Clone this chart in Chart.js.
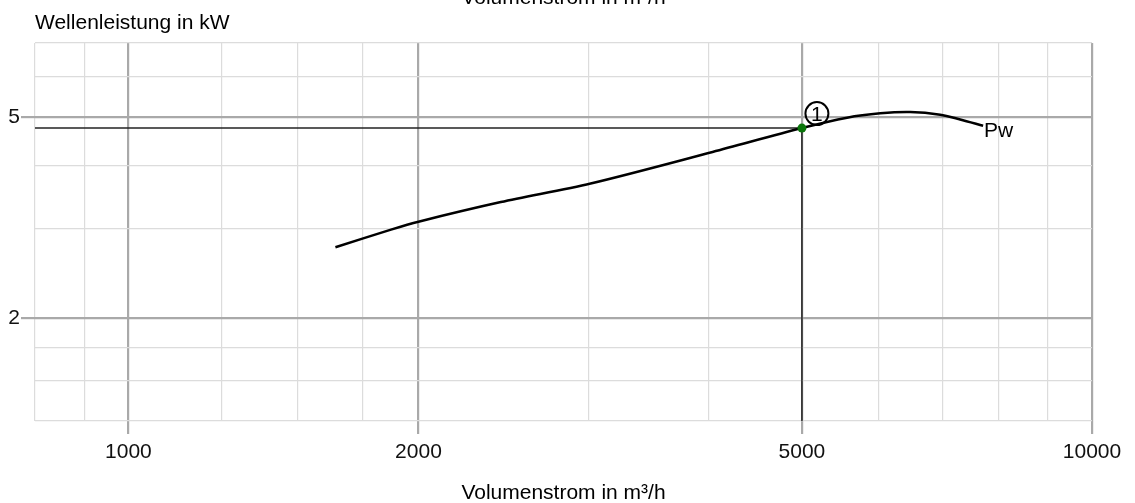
<!DOCTYPE html>
<html>
<head>
<meta charset="utf-8">
<script src="https://cdn.jsdelivr.net/npm/chart.js@4/dist/chart.umd.min.js"></script>
<style>
html,body{margin:0;padding:0;background:#fff;}
#wrap{width:1135px;height:503px;position:relative;}
</style>
</head>
<body>
<div id="wrap"><canvas id="c"></canvas></div>
<script>
// ---- data ----
const xTickValues = [800, 900, 1000, 1250, 1500, 1750, 2000, 3000, 4000, 5000, 6000, 7000, 8000, 9000, 10000];
const xMajorTicks = [1000, 2000, 5000, 10000];
const yTickValues = [1.25, 1.5, 1.75, 2, 3, 4, 5, 6, 7];
const yMajorTicks = [2, 5];
const flowRate   = [1640, 1873, 2000, 2435, 3018, 4039, 5000, 5569, 6030, 6477, 6958, 7298, 7709];
const shaftPower = [2.76, 2.99, 3.10, 3.39, 3.69, 4.26, 4.75, 4.98, 5.08, 5.11, 5.05, 4.94, 4.80];
const opFlow = 5000;
const opPower = 4.75;
const xMin = 800, xMax = 10000, yMin = 1.25, yMax = 7;
const curveLabel = 'Pw';
const opLabel = '1';
const xTitle = 'Volumenstrom in m³/h';
const yTitle = 'Wellenleistung in kW';

const FONT = '"Liberation Sans", Arial, sans-serif';

const curve = flowRate.map((x, i) => ({x, y: shaftPower[i]}));

const annot = {
  id: 'annot',
  afterDatasetsDraw(chart) {
    const ctx = chart.ctx;
    const xs = chart.scales.x, ys = chart.scales.y;
    const ca = chart.chartArea;
    ctx.save();
    ctx.fillStyle = '#000';
    ctx.font = '21px ' + FONT;
    // titles
    ctx.textAlign = 'left';
    ctx.textBaseline = 'alphabetic';
    ctx.fillText(yTitle, ca.left, 29);
    ctx.textAlign = 'center';
    ctx.fillText(xTitle, (ca.left + ca.right) / 2, 499);
    ctx.fillText(xTitle, (ca.left + ca.right) / 2, 4);
    // operating point marker "1"
    const px = xs.getPixelForValue(opFlow), py = ys.getPixelForValue(opPower);
    const cx = px + 15, cy = py - 14.5;
    ctx.beginPath();
    ctx.arc(cx, cy, 11.5, 0, Math.PI * 2);
    ctx.lineWidth = 2;
    ctx.strokeStyle = '#000';
    ctx.stroke();
    ctx.font = '21px ' + FONT;
    ctx.textAlign = 'center';
    ctx.textBaseline = 'middle';
    ctx.fillText(opLabel, cx, cy + 2);
    // curve label
    const lx = xs.getPixelForValue(flowRate[flowRate.length - 1]);
    const ly = ys.getPixelForValue(shaftPower[shaftPower.length - 1]);
    ctx.font = '21px ' + FONT;
    ctx.textAlign = 'left';
    ctx.textBaseline = 'middle';
    ctx.fillText(curveLabel, lx + 1, ly + 5);
    ctx.restore();
  }
};

new Chart(document.getElementById('c'), {
  type: 'line',
  data: {
    datasets: [
      {
        label: 'op', order: 0,
        data: [{x: opFlow, y: opPower}],
        showLine: false, pointRadius: 4.5, pointBackgroundColor: '#0b760b', pointBorderWidth: 0
      },
      {
        label: curveLabel, order: 1,
        data: curve,
        borderColor: '#000', borderWidth: 2.5, pointRadius: 0,
        tension: 0.3, fill: false
      },
      {
        label: 'h', order: 2,
        data: [{x: xMin, y: opPower}, {x: opFlow, y: opPower}],
        borderColor: '#222', borderWidth: 1.5, pointRadius: 0, tension: 0
      },
      {
        label: 'v', order: 2,
        data: [{x: opFlow, y: opPower}, {x: opFlow, y: yMin}],
        borderColor: '#222', borderWidth: 1.5, pointRadius: 0, tension: 0
      }
    ]
  },
  options: {
    responsive: true, maintainAspectRatio: false, animation: false,
    layout: {padding: {top: 43, right: 43, left: 0, bottom: 0}},
    plugins: {legend: {display: false}, tooltip: {enabled: false}, title: {display: false}},
    scales: {
      x: {
        type: 'logarithmic', min: xMin, max: xMax,
        afterBuildTicks: s => { s.ticks = xTickValues.map(v => ({value: v})); },
        afterFit: s => { s.height = 82; },
        border: {display: false},
        grid: {
          color: c => xMajorTicks.includes(c.tick && c.tick.value) ? '#a9a9a9' : '#dcdcdc',
          lineWidth: c => xMajorTicks.includes(c.tick && c.tick.value) ? 2.2 : 1.2,
          tickColor: c => xMajorTicks.includes(c.tick && c.tick.value) ? '#a9a9a9' : 'rgba(0,0,0,0)',
          tickLength: 13, drawTicks: true
        },
        ticks: {
          autoSkip: false, maxRotation: 0, padding: 6, color: '#111',
          font: {family: FONT, size: 21},
          callback: v => xMajorTicks.includes(v) ? String(v) : ''
        }
      },
      y: {
        type: 'logarithmic', min: yMin, max: yMax,
        afterBuildTicks: s => { s.ticks = yTickValues.map(v => ({value: v})); },
        afterFit: s => { s.width = 35; },
        border: {display: false},
        grid: {
          color: c => yMajorTicks.includes(c.tick && c.tick.value) ? '#a9a9a9' : '#dcdcdc',
          lineWidth: c => yMajorTicks.includes(c.tick && c.tick.value) ? 2.2 : 1.2,
          tickColor: c => yMajorTicks.includes(c.tick && c.tick.value) ? '#a9a9a9' : 'rgba(0,0,0,0)',
          tickLength: 14, drawTicks: true
        },
        ticks: {
          autoSkip: false, padding: 1, color: '#111',
          font: {family: FONT, size: 21},
          callback: v => yMajorTicks.includes(v) ? String(v) : ''
        }
      }
    }
  },
  plugins: [annot]
});
</script>
</body>
</html>
